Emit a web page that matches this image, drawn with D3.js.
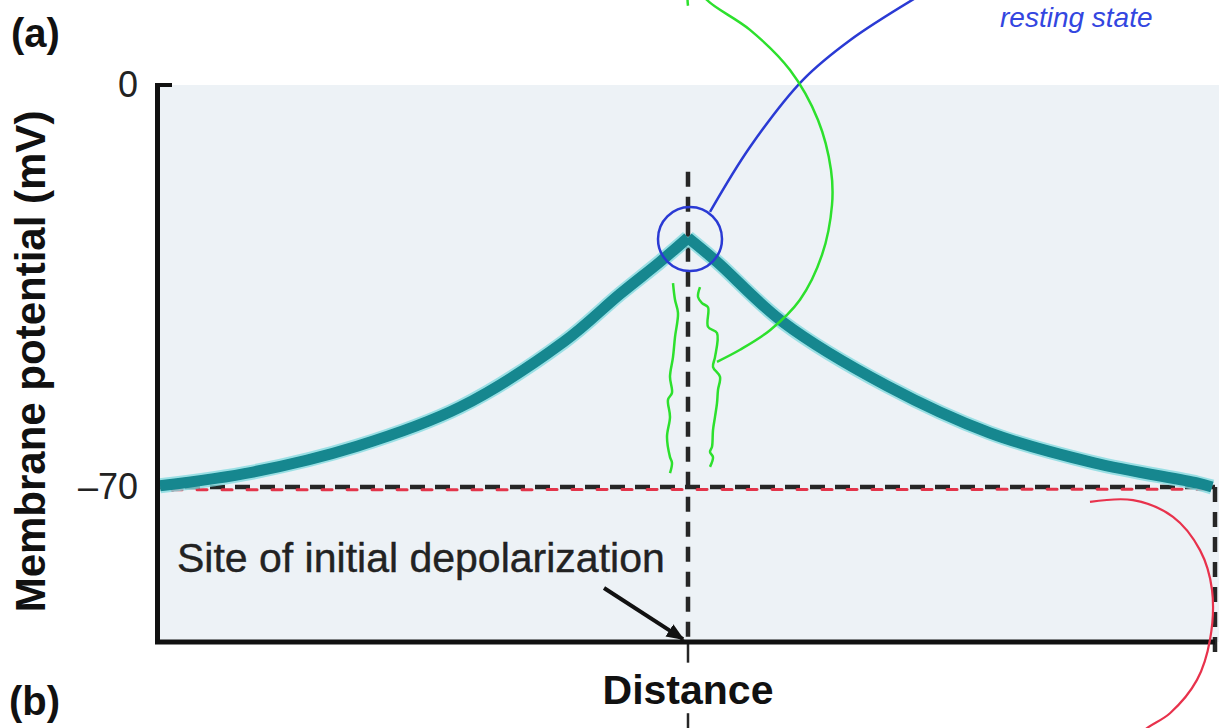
<!DOCTYPE html>
<html>
<head>
<meta charset="utf-8">
<script src="https://cdn.jsdelivr.net/npm/d3@7"></script>
<style>
body { margin: 0; background: #fff; }
svg { display: block; }
text { font-family: "Liberation Sans", Arial, Helvetica, sans-serif; }
</style>
</head>
<body>
<svg width="1219" height="728"></svg>
<script>
// Potential profile along the axon (distance in mm, potential in mV)
const distLeft = [-5.28, -4.35, -3.31, -2.28, -1.24, -0.68, -0.28, 0];
const vLeft = [-69.8, -67.4, -62.9, -56.1, -44.7, -36.4, -30.8, -26.6];
const distRight = [0, 0.29, 0.95, 1.99, 3.02, 4.06, 5.09, 5.24];
const vRight = [-26.6, -30.8, -41.3, -52.4, -60.6, -65.8, -69.3, -70.0];

const yTicks = [0, -70];
const restingV = -70;
const siteDist = 0;

// Hand-drawn ink on top of the figure, also in (distance, mV)
const blueLeader = [[0.22, -22.1], [0.62, -10.8], [1.15, 0.9], [1.62, 7.8], [2.27, 15.1]];
const greenArc = [[0, 13.8], [0.01, 16.3], [0.12, 16.9], [0.19, 14.8], [0.62, 9.6], [1.02, 2.6],
    [1.30, -6.1], [1.43, -14.8], [1.44, -20.9], [1.34, -29.6], [1.12, -37.4], [0.82, -42.7],
    [0.52, -46.1], [0.29, -48.2]];
const greenWavyL = [[-0.15, -34.5], [-0.13, -37.4], [-0.10, -39.7], [-0.13, -43.9], [-0.15, -47.4],
    [-0.18, -50.8], [-0.16, -53.6], [-0.20, -54.8], [-0.18, -57.8], [-0.21, -61.3], [-0.18, -64.8],
    [-0.16, -65.8], [-0.18, -67.6]];
const greenWavyR = [[0.12, -35.2], [0.10, -36.9], [0.14, -38.0], [0.20, -38.7], [0.20, -42.1],
    [0.29, -43.2], [0.27, -47.4], [0.25, -49.1], [0.32, -50.8], [0.30, -53.1], [0.29, -55.4],
    [0.27, -57.8], [0.25, -60.1], [0.24, -63.0], [0.22, -63.9], [0.25, -64.8], [0.22, -66.5]];
const redArc = [[4.02, -72.6], [4.45, -72.3], [4.85, -75.2], [5.12, -81.0], [5.24, -87.9],
    [5.22, -96.6], [5.09, -103.6], [4.82, -109.4], [4.59, -112.0], [4.52, -113.2]];
const redDash = [[-5.28, -71.4], [-5.14, -70.5], [5.24, -70.4]];
const arrowPts = [[-0.84, -87.6], [-0.05, -96.5]];

const svg = d3.select("svg");
const width = +svg.attr("width");
const height = +svg.attr("height");

const x = d3.scaleLinear().domain([-5.28, 5.28]).range([160, 1216]);
const y = d3.scaleLinear().domain([-97, 0]).range([642, 85]);

const defs = svg.append("defs");
defs.append("marker")
    .attr("id", "head")
    .attr("viewBox", "0 0 10 10")
    .attr("refX", 9).attr("refY", 5)
    .attr("markerWidth", 4.5).attr("markerHeight", 4.5)
    .attr("orient", "auto")
    .append("path")
    .attr("d", "M0,1 L10,5 L0,9 z")
    .attr("fill", "#111");
defs.append("filter")
    .attr("id", "soft")
    .append("feGaussianBlur")
    .attr("stdDeviation", 0.5);

// plot background
svg.append("rect")
    .attr("x", x(-5.28) - 3)
    .attr("y", y(0))
    .attr("width", width - x(-5.28) + 3)
    .attr("height", y(-97) - y(0))
    .attr("fill", "#edf2f6");

const line = d3.line().x(d => x(d[0])).y(d => y(d[1]));
const smooth = d3.line().x(d => x(d[0])).y(d => y(d[1])).curve(d3.curveCatmullRom.alpha(0.5));

// dashed guides
const dash = svg.append("g")
    .attr("stroke", "#262626")
    .attr("stroke-width", 4.5)
    .attr("stroke-dasharray", "15,10")
    .attr("fill", "none");
dash.append("path").attr("d", line([[-5.28, restingV], [5.27, restingV]]));
dash.append("path").attr("d", line([[siteDist, -15.1], [siteDist, -97]]));
dash.append("path").attr("d", line([[5.27, restingV], [5.27, -99.6]]));

// line continuing below the axis, interrupted by the axis title
svg.append("path")
    .attr("d", line([[siteDist, -97], [siteDist, -100.6]]))
    .attr("stroke", "#262626").attr("stroke-width", 2.5);
svg.append("path")
    .attr("d", line([[siteDist, -109.4], [siteDist, -112.5]]))
    .attr("stroke", "#262626").attr("stroke-width", 2.5);

// red hand-drawn dashes along the resting line
svg.append("path")
    .attr("d", line(redDash))
    .attr("fill", "none")
    .attr("stroke", "#e2354a")
    .attr("stroke-width", 3)
    .attr("stroke-linecap", "round")
    .attr("stroke-dasharray", "10,15")
    .attr("stroke-dashoffset", -13);

// potential curve (blurred teal band)
const series = [
    distLeft.map((d, i) => [d, vLeft[i]]),
    distRight.map((d, i) => [d, vRight[i]])
];
const curveG = svg.append("g").attr("filter", "url(#soft)");
series.forEach(s => {
    curveG.append("path").attr("d", smooth(s))
        .attr("fill", "none").attr("stroke", "#86dbe0")
        .attr("stroke-width", 15).attr("stroke-linejoin", "round").attr("opacity", 0.8);
});
series.forEach(s => {
    curveG.append("path").attr("d", smooth(s))
        .attr("fill", "none").attr("stroke", "#13878f")
        .attr("stroke-width", 11).attr("stroke-linejoin", "round");
});

// axes
const yAxis = svg.append("g")
    .attr("transform", `translate(${x(-5.28) - 3},0)`)
    .call(d3.axisLeft(y).tickValues(yTicks).tickSize(0).tickSizeOuter(0).tickPadding(19)
        .tickFormat(d => d === 0 ? "0" : "\u201370"));
yAxis.select(".domain").attr("stroke", "#111").attr("stroke-width", 5);
yAxis.selectAll("text")
    .attr("font-size", 36).attr("fill", "#222")
    .attr("font-family", "\"Liberation Sans\", Arial, sans-serif");
svg.append("line")
    .attr("x1", x(-5.28) - 5).attr("x2", x(-5.28) + 12)
    .attr("y1", y(0)).attr("y2", y(0))
    .attr("stroke", "#111").attr("stroke-width", 4);

const xAxis = svg.append("g")
    .attr("transform", `translate(0,${y(-97)})`)
    .call(d3.axisBottom(x).tickValues([]).tickSizeOuter(0));
xAxis.select(".domain")
    .attr("d", `M${x(-5.28) - 5},0H${x(5.27)}`)
    .attr("stroke", "#111").attr("stroke-width", 5);

// titles
svg.append("text")
    .attr("transform", `translate(30,${(y(0) + y(-97)) / 2 - 2}) rotate(-90)`)
    .attr("text-anchor", "middle")
    .attr("dy", "0.35em")
    .attr("font-size", 42).attr("font-weight", "bold").attr("fill", "#111")
    .text("Membrane potential (mV)");

svg.append("text")
    .attr("x", x(siteDist)).attr("y", 704)
    .attr("text-anchor", "middle")
    .attr("font-size", 41).attr("font-weight", "bold").attr("fill", "#111")
    .text("Distance");

svg.append("text")
    .attr("x", 11).attr("y", 47)
    .attr("font-size", 40).attr("font-weight", "bold").attr("fill", "#111")
    .text("(a)");
svg.append("text")
    .attr("x", 9).attr("y", 715)
    .attr("font-size", 40).attr("font-weight", "bold").attr("fill", "#111")
    .text("(b)");

svg.append("text")
    .attr("x", 177).attr("y", 572)
    .attr("font-size", 41).attr("fill", "#222")
    .attr("stroke", "#222").attr("stroke-width", 0.4)
    .text("Site of initial depolarization");

svg.append("path")
    .attr("d", line(arrowPts))
    .attr("stroke", "#111").attr("stroke-width", 4)
    .attr("marker-end", "url(#head)");

// hand-drawn annotations
svg.append("circle")
    .attr("cx", x(0.02)).attr("cy", y(-26.8)).attr("r", 32)
    .attr("fill", "none").attr("stroke", "#2a3ad4").attr("stroke-width", 2.5);
svg.append("path").attr("d", smooth(blueLeader))
    .attr("fill", "none").attr("stroke", "#2a3ad4").attr("stroke-width", 2.5);
svg.append("text")
    .attr("x", 1000).attr("y", 27)
    .attr("font-size", 28).attr("font-style", "italic").attr("fill", "#3346e0")
    .text("resting state");

[greenArc, greenWavyL, greenWavyR].forEach(p => {
    svg.append("path").attr("d", smooth(p))
        .attr("fill", "none").attr("stroke", "#2de02d").attr("stroke-width", 2.5);
});

svg.append("path").attr("d", smooth(redArc))
    .attr("fill", "none").attr("stroke", "#e8324c").attr("stroke-width", 2.2);
</script>
</body>
</html>
